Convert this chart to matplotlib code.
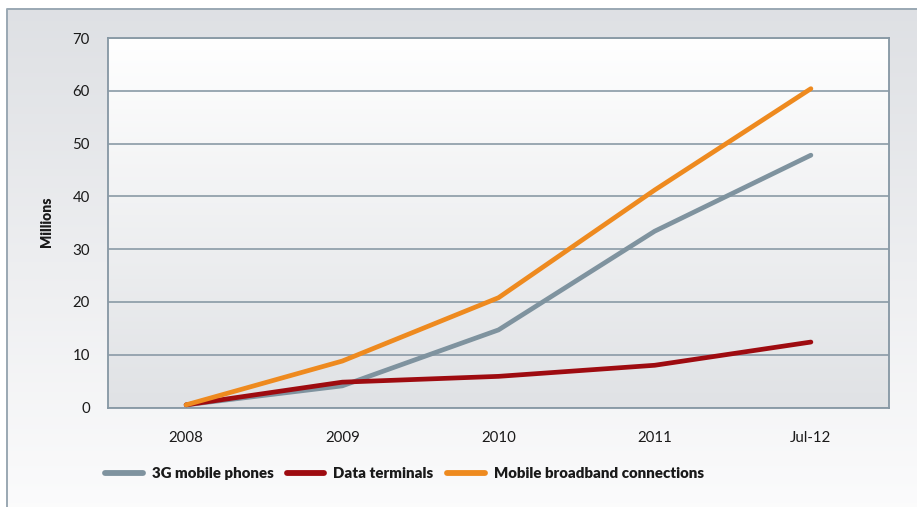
import numpy as np
import matplotlib.pyplot as plt

plt.rcParams['font.family'] = ['Lato', 'DejaVu Sans']

categories = ["2008", "2009", "2010", "2011", "Jul-12"]
phones_3g = [0.5, 4.1, 14.7, 33.4, 47.8]
data_terminals = [0.5, 4.8, 5.9, 8.0, 12.4]
broadband = [0.5, 8.8, 20.8, 41.2, 60.4]

txt = "#1a1a1a"
edge = "#8596a3"

fig = plt.figure(figsize=(9.17, 5.07), dpi=100)

# outer panel with a light gradient
bg = fig.add_axes([0, 0, 1, 1], zorder=-10)
bg.set_xlim(0, 917)
bg.set_ylim(507, 0)
bg.axis("off")
grad = np.linspace(0, 1, 256).reshape(-1, 1)
top_c = np.array([0.872, 0.880, 0.894])
bot_c = np.array([0.985, 0.985, 0.988])
img = top_c + (bot_c - top_c) * grad[..., None]
bg.imshow(img, extent=[7, 917, 507, 9], aspect="auto", zorder=0)
bg.plot([7, 7, 917], [507, 9, 9], color="#9aa8b3", lw=1.4, zorder=1)

ax = fig.add_axes([108 / 917, 1 - 407.5 / 507, (889 - 108) / 917, (407.5 - 38) / 507])
ax.set_facecolor("none")
top_p = np.array([1.0, 1.0, 1.0])
bot_p = np.array([0.878, 0.886, 0.898])
img2 = top_p + (bot_p - top_p) * grad[..., None]
ax.imshow(img2, extent=[0, 1, 0, 1], transform=ax.transAxes, aspect="auto", zorder=0)

x = np.arange(len(categories))
ax.plot(x, phones_3g, color="#7f939f", lw=3.4, solid_capstyle="round",
        solid_joinstyle="round", label="3G mobile phones", zorder=3)
ax.plot(x, data_terminals, color="#9e0b10", lw=3.4, solid_capstyle="round",
        solid_joinstyle="round", label="Data terminals", zorder=4)
ax.plot(x, broadband, color="#ee8a1f", lw=3.4, solid_capstyle="round",
        solid_joinstyle="round", label="Mobile broadband connections", zorder=5)

ax.set_xlim(-0.5, 4.5)
ax.set_ylim(0, 70)
ax.set_xticks(x)
ax.set_xticklabels(categories)
ax.set_yticks(range(0, 71, 10))
ax.tick_params(axis="both", length=0, labelsize=10.8, colors=txt)
ax.tick_params(axis="y", pad=13)
ax.tick_params(axis="x", pad=17)
ax.yaxis.grid(True, color="#8a9aa6", lw=1.2)
ax.set_axisbelow(False)
for gl in ax.get_ygridlines():
    gl.set_zorder(1)
for s in ax.spines.values():
    s.set_color(edge)
    s.set_linewidth(1.3)

fig.text(47 / 917, 1 - 222 / 507, "Millions", rotation=90, ha="center", va="center",
         fontsize=10, fontweight="heavy", color=txt)

leg = ax.legend(loc="center left", bbox_to_anchor=(105 / 917, 1 - 474 / 507),
                bbox_transform=fig.transFigure, ncol=3, frameon=False,
                borderpad=0, borderaxespad=0, handlelength=2.5, handletextpad=0.6,
                columnspacing=0.9, prop={"size": 10.8, "weight": "heavy"})
for t in leg.get_texts():
    t.set_color(txt)
for h in leg.get_lines():
    h.set_linewidth(4.2)

fig.savefig("out.png", dpi=100)
